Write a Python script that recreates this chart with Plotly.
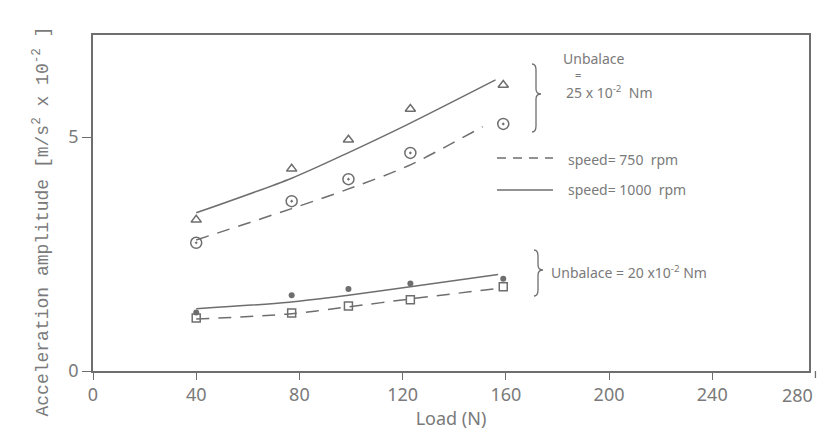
import plotly.graph_objects as go

# ---------------- data ----------------
load = [40, 77, 99, 123, 159]

# Unbalance 25e-2 Nm
acc_1000_25 = [3.23, 4.32, 4.94, 5.60, 6.11]   # triangles
acc_750_25 = [2.74, 3.63, 4.10, 4.66, 5.28]    # circles
fit_1000_25_x = [40, 77, 98, 122, 156]
fit_1000_25_y = [3.38, 4.12, 4.64, 5.27, 6.22]
fit_750_25_x = [40, 77, 98, 122, 151]
fit_750_25_y = [2.80, 3.47, 3.87, 4.38, 5.22]

# Unbalance 20e-2 Nm
acc_1000_20 = [1.25, 1.62, 1.75, 1.87, 1.97]   # dots
acc_750_20 = [1.13, 1.24, 1.39, 1.52, 1.80]    # squares
fit_1000_20_x = [40, 76, 99, 123, 157]
fit_1000_20_y = [1.33, 1.47, 1.62, 1.80, 2.06]
fit_750_20_x = [40, 76, 99, 123, 158]
fit_750_20_y = [1.11, 1.22, 1.37, 1.54, 1.77]

x_ticks = [0, 40, 80, 120, 160, 200, 240, 280]
y_ticks = [0, 5]

# ---------------- layout constants ----------------
W, H = 831, 439
ML, MR, MT, MB = 93, 22, 35, 68
XR = [0, 277.5]          # frame ends just short of the 280 tick
YR = [0, 7.18]
GRAY = "#6e6e6e"
TXT = "#7a7a7a"
FONT = "Noto Sans"

pw = W - ML - MR
ph = H - MT - MB


def dx(px):
    return XR[0] + (px - ML) / pw * (XR[1] - XR[0])


def dy(py):
    return YR[0] + (H - MB - py) / ph * (YR[1] - YR[0])


def xpaper(v):
    return (v - XR[0]) / (XR[1] - XR[0])


fig = go.Figure()

line_style = dict(color=GRAY, width=1.5)
spl = dict(shape="spline", smoothing=0.8)

fig.add_trace(go.Scatter(x=fit_1000_25_x, y=fit_1000_25_y, mode="lines",
                         line=dict(**line_style, **spl)))
fig.add_trace(go.Scatter(x=fit_750_25_x, y=fit_750_25_y, mode="lines",
                         line=dict(**line_style, **spl, dash="13px,9px")))
fig.add_trace(go.Scatter(x=fit_1000_20_x, y=fit_1000_20_y, mode="lines",
                         line=dict(**line_style, **spl)))
fig.add_trace(go.Scatter(x=fit_750_20_x, y=fit_750_20_y, mode="lines",
                         line=dict(**line_style, **spl, dash="13px,9px")))

fig.add_trace(go.Scatter(x=load, y=acc_1000_25, mode="markers",
                         marker=dict(symbol="triangle-up-open", size=9,
                                     color=GRAY, line=dict(width=1.5))))
fig.add_trace(go.Scatter(x=load, y=acc_750_25, mode="markers",
                         marker=dict(symbol="circle-open-dot", size=11,
                                     color=GRAY, line=dict(width=1.5))))
fig.add_trace(go.Scatter(x=load, y=acc_1000_20, mode="markers",
                         marker=dict(symbol="circle", size=6, color=GRAY)))
fig.add_trace(go.Scatter(x=load, y=acc_750_20, mode="markers",
                         marker=dict(symbol="square-open", size=8,
                                     color=GRAY, line=dict(width=1.5))))


# ---------------- braces & legend ----------------
def brace(px, ytop, ybot, ytip):
    pts = [
        ("M", px, ytop),
        ("Q", px + 4, ytop, px + 4, ytop + 6),
        ("L", px + 4, ytip - 5),
        ("Q", px + 4, ytip, px + 9, ytip),
        ("Q", px + 4, ytip, px + 4, ytip + 5),
        ("L", px + 4, ybot - 6),
        ("Q", px + 4, ybot, px, ybot),
    ]
    s = ""
    for p in pts:
        cmd = p[0]
        vals = p[1:]
        coords = []
        for i in range(0, len(vals), 2):
            coords.append(f"{dx(vals[i]):.3f},{dy(vals[i + 1]):.3f}")
        s += cmd + " " + " ".join(coords) + " "
    return s.strip()


fig.add_shape(type="path", path=brace(532, 64, 132, 94), xref="x", yref="y",
              line=dict(color=GRAY, width=1.3))
fig.add_shape(type="path", path=brace(534, 250, 296, 270), xref="x", yref="y",
              line=dict(color=GRAY, width=1.3))

fig.add_shape(type="line", x0=dx(497), x1=dx(553), y0=dy(158), y1=dy(158),
              xref="x", yref="y", line=dict(color=GRAY, width=1.5, dash="9px,7px"))
fig.add_shape(type="line", x0=dx(497), x1=dx(553), y0=dy(190), y1=dy(190),
              xref="x", yref="y", line=dict(color=GRAY, width=1.5))

ann_font = dict(family=FONT, size=14, color=TXT)
fig.add_annotation(x=dx(561), y=dy(58), text="Unbalace", xanchor="left",
                   showarrow=False, font=ann_font)
fig.add_annotation(x=dx(578), y=dy(74), text="=", xanchor="center",
                   showarrow=False, font=dict(family=FONT, size=11, color=TXT))
fig.add_annotation(x=dx(564), y=dy(92), text="25 x 10<sup>-2</sup>  Nm", xanchor="left",
                   showarrow=False, font=ann_font)
fig.add_annotation(x=dx(566), y=dy(159), text="speed= 750  rpm", xanchor="left",
                   showarrow=False, font=ann_font)
fig.add_annotation(x=dx(566), y=dy(189), text="speed= 1000  rpm", xanchor="left",
                   showarrow=False, font=ann_font)
fig.add_annotation(x=dx(549), y=dy(272), text="Unbalace = 20 x10<sup>-2</sup> Nm",
                   xanchor="left", showarrow=False, font=ann_font)

# last x tick (lies just outside the frame)
axis_ticks = [t for t in x_ticks if t <= XR[1]]
for t in x_ticks:
    if t > XR[1]:
        fig.add_shape(type="line", xref="paper", yref="paper",
                      x0=xpaper(t), x1=xpaper(t), y0=0, y1=-7 / ph,
                      line=dict(color=GRAY, width=1.3))
        fig.add_annotation(x=xpaper(t), y=-10 / ph, xref="paper", yref="paper",
                           text=str(t), showarrow=False, yanchor="top",
                           font=dict(family=FONT, size=18, color=TXT))

# y-axis title (monospace, rotated)
fig.add_annotation(x=(28 - ML) / pw, y=(H - MB - 222) / ph, xref="paper", yref="paper",
                   text="Acceleration amplitude [m/s<sup>2</sup> x 10<sup>-2</sup> ]",
                   textangle=-90, showarrow=False,
                   font=dict(family="Liberation Mono", size=18, color=TXT))

fig.update_layout(
    width=W, height=H,
    margin=dict(l=ML, r=MR, t=MT, b=MB, autoexpand=False),
    paper_bgcolor="white", plot_bgcolor="white",
    showlegend=False,
    xaxis=dict(range=XR, tickvals=axis_ticks, ticks="outside", ticklen=7,
               tickcolor=GRAY, tickwidth=1.3, showgrid=False, zeroline=False,
               showline=True, linecolor=GRAY, linewidth=1.5, mirror=True,
               automargin=False,
               tickfont=dict(family=FONT, size=18, color=TXT),
               title=dict(text="Load (N)", standoff=6,
                          font=dict(family=FONT, size=18, color=TXT))),
    yaxis=dict(range=YR, tickvals=y_ticks, ticks="outside", ticklen=9,
               tickcolor=GRAY, tickwidth=1.3, showgrid=False, zeroline=False,
               showline=True, linecolor=GRAY, linewidth=1.5, mirror=True,
               automargin=False,
               tickfont=dict(family=FONT, size=18, color=TXT)),
)

fig.write_html("out.html")
